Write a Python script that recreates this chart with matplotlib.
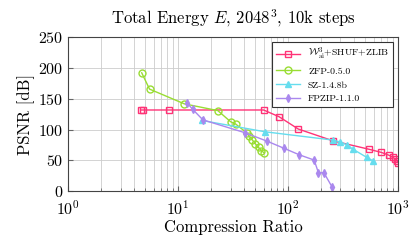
import matplotlib
matplotlib.use('Agg')
import matplotlib.pyplot as plt
from matplotlib.ticker import LogLocator, NullFormatter

plt.rcParams['font.family'] = 'cmr10'
plt.rcParams['mathtext.fontset'] = 'cm'
plt.rcParams['axes.formatter.use_mathtext'] = True

# W_ai^3 + SHUF + ZLIB
wai_cr = [4.6, 4.75, 8.2, 60, 83, 124, 255, 548, 705, 825, 900, 950, 985, 1000]
wai_psnr = [132, 132, 132, 132, 121, 101, 82, 68, 63, 58.5, 55, 52, 48.5, 46.5]

# ZFP-0.5.0
zfp_cr = [4.67, 5.5, 11.4, 23, 30, 33.5, 42, 44.5, 47.5, 50.5, 54, 57, 61]
zfp_psnr = [192.5, 166, 142, 131, 113, 109, 95, 89, 83, 77, 71, 66, 62]

# SZ-1.4.8b
sz_cr = [16.4, 62, 258, 297, 347, 387, 519, 596]
sz_psnr = [115, 96.5, 83, 80, 75, 68.5, 55, 49]

# FPZIP-1.1.0
fpz_cr = [12, 13.6, 16.8, 40.6, 65, 92.5, 127, 173, 189, 212, 253]
fpz_psnr = [144, 133, 116, 95, 81, 69.5, 59, 50.5, 30, 30, 6]

labels = [r'$\mathcal{W}^3_{\mathrm{ai}}$+SHUF+ZLIB', 'ZFP-0.5.0', 'SZ-1.4.8b', 'FPZIP-1.1.0']

fig = plt.figure(figsize=(4.18, 2.45), dpi=100)
ax = fig.add_axes([0.163, 0.22, 0.789, 0.627])

ax.plot(wai_cr, wai_psnr, color='#ff3377', marker='s', ms=5, mfc='none', mew=1, lw=1, label=labels[0])
ax.plot(zfp_cr, zfp_psnr, color='#99dd33', marker='o', ms=5, mfc='none', mew=1, lw=1, label=labels[1])
ax.plot(sz_cr, sz_psnr, color='#66ddee', marker='^', ms=4, lw=1, label=labels[2])
ax.plot(fpz_cr, fpz_psnr, color='#aa88ee', marker='d', ms=4, lw=1, label=labels[3])

ax.set_xscale('log')
ax.set_xlim(1, 1000)
ax.set_ylim(0, 250)
ax.set_yticks([0, 50, 100, 150, 200, 250])
ax.xaxis.set_minor_locator(LogLocator(base=10, subs=range(2, 10)))
ax.xaxis.set_minor_formatter(NullFormatter())
ax.grid(True, which='both', color='#cccccc', lw=0.6)
ax.set_axisbelow(True)
ax.tick_params(which='both', direction='in', labelsize=11.5, color='#666666')
ax.tick_params(axis='x', pad=6)
for s in ax.spines.values():
    s.set_color('#444444')

ax.set_title(r'Total Energy $E$, $2048^3$, 10k steps', fontsize=12, pad=10)
ax.set_xlabel('Compression Ratio', fontsize=12, labelpad=1)
ax.set_ylabel('PSNR [dB]', fontsize=12, labelpad=2)

leg = ax.legend(loc='upper right', fontsize=7, frameon=True, fancybox=False,
                edgecolor='#333333', framealpha=1, handlelength=2.5)
leg.get_frame().set_linewidth(0.8)

fig.savefig('out.png', dpi=100)
